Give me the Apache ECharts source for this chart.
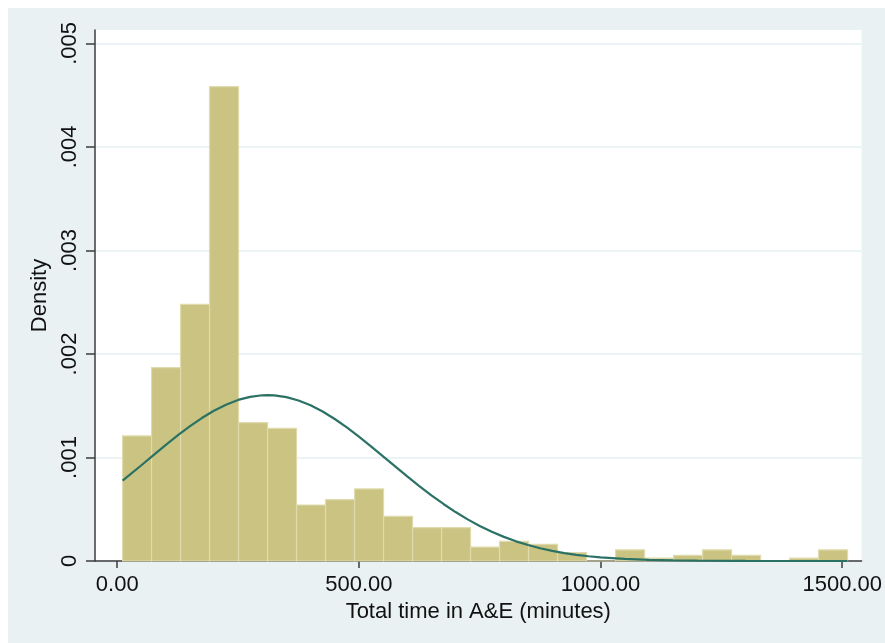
<!DOCTYPE html>
<html>
<head>
<meta charset="utf-8">
<script src="https://cdn.jsdelivr.net/npm/echarts@6/dist/echarts.min.js"></script>
<style>
html,body{margin:0;padding:0;background:#fff;}
#chart{width:885px;height:643px;}
</style>
</head>
<body>
<div id="chart"></div>
<script>
// Histogram bin edges (minutes)
const binEdges = [11, 71, 131, 191, 251, 311, 371, 431, 491, 551, 611, 671, 731, 791, 851, 911, 971, 1031, 1091, 1151, 1211, 1271, 1331, 1391, 1451, 1511];
// Density of each bin
const binDensity = [0.001208, 0.001868, 0.00248, 0.004583, 0.001336, 0.001282, 0.000541, 0.000592, 0.000696, 0.000432, 0.000322, 0.000322, 0.000135, 0.000189, 0.000162, 0.000081, 0, 0.000108, 0.000027, 0.000054, 0.000108, 0.000054, 0, 0.000027, 0.000108];
// Normal density overlay
const curveX = [11, 25, 50, 75, 100, 125, 150, 175, 200, 225, 250, 275, 300, 311, 325, 350, 375, 400, 425, 450, 475, 500, 525, 550, 575, 600, 625, 650, 675, 700, 725, 750, 775, 800, 825, 850, 875, 900, 925, 950, 975, 1000, 1050, 1100, 1150, 1200, 1300, 1400, 1511];
const curveY = [0.000776, 0.000829, 0.000925, 0.001023, 0.00112, 0.001213, 0.001301, 0.001381, 0.001451, 0.00151, 0.001556, 0.001586, 0.001601, 0.001603, 0.0016, 0.001583, 0.001551, 0.001504, 0.001444, 0.001372, 0.00129, 0.001202, 0.001108, 0.001011, 0.000914, 0.000817, 0.000724, 0.000634, 0.000551, 0.000473, 0.000402, 0.000339, 0.000282, 0.000233, 0.00019, 0.000154, 0.000123, 0.0000978, 0.0000766, 0.0000596, 0.0000458, 0.0000349, 0.0000196, 0.0000106, 0.0000055, 0.0000027, 0.0000006, 0.0000001, 0];
// Tick labels
const xTicks = [0, 500, 1000, 1500];
const yTicks = [0, 0.001, 0.002, 0.003, 0.004, 0.005];

const barData = binDensity.map((d, i) => [binEdges[i], binEdges[i + 1], d]);
const lineData = curveX.map((x, i) => [x, curveY[i]]);

const FONT = '"Liberation Sans", Arial, Helvetica, sans-serif';
const AXC = '#3c3c3c';

const chart = echarts.init(document.getElementById('chart'), null, {renderer: 'canvas'});
chart.setOption({
  animation: false,
  backgroundColor: '#ffffff',
  graphic: [{
    type: 'rect', left: 8, top: 8, z: -10,
    shape: {width: 877, height: 635},
    style: {fill: '#E9F1F2'}
  }],
  grid: {
    left: 95, right: 20, top: 30, bottom: 82,
    show: true, backgroundColor: '#ffffff', borderWidth: 0
  },
  xAxis: {
    type: 'value', min: -46, max: 1540,
    name: 'Total time in A&E (minutes)',
    nameLocation: 'middle', nameGap: 36,
    nameTextStyle: {fontFamily: FONT, fontSize: 22, color: '#111'},
    axisLine: {show: true, onZero: false, lineStyle: {color: AXC, width: 1.5}},
    axisTick: {show: true, length: 7, lineStyle: {color: AXC, width: 1.5}, customValues: xTicks},
    axisLabel: {
      customValues: xTicks, margin: 13,
      fontFamily: FONT, fontSize: 22, color: '#111',
      formatter: v => v.toFixed(2)
    },
    splitLine: {show: false}
  },
  yAxis: {
    type: 'value', min: 0, max: 0.00513,
    name: 'Density', nameLocation: 'middle', nameGap: 38, nameRotate: 90,
    nameTextStyle: {fontFamily: FONT, fontSize: 22, color: '#111'},
    axisLine: {show: true, onZero: false, lineStyle: {color: AXC, width: 1.5}},
    axisTick: {show: true, length: 9, lineStyle: {color: AXC, width: 1.5}, customValues: yTicks},
    axisLabel: {
      customValues: yTicks, rotate: 90, margin: 14,
      fontFamily: FONT, fontSize: 22, color: '#111',
      formatter: v => v === 0 ? '0' : v.toFixed(3).replace(/^0/, '')
    },
    splitLine: {show: true, lineStyle: {color: '#E6EFF0', width: 1.5}}
  },
  series: [{
    type: 'custom',
    data: barData,
    renderItem: function (params, api) {
      const p0 = api.coord([api.value(0), 0]);
      const p1 = api.coord([api.value(1), api.value(2)]);
      return {
        type: 'rect',
        shape: {x: p0[0], y: p1[1], width: p1[0] - p0[0], height: p0[1] - p1[1]},
        style: {fill: '#CBC382', stroke: '#E0DBAF', lineWidth: 1.2}
      };
    },
    encode: {x: [0, 1], y: 2},
    z: 2
  }, {
    type: 'line',
    data: lineData,
    smooth: false,
    showSymbol: false,
    lineStyle: {color: '#2B7264', width: 2.2},
    z: 3
  }]
});
</script>
</body>
</html>
